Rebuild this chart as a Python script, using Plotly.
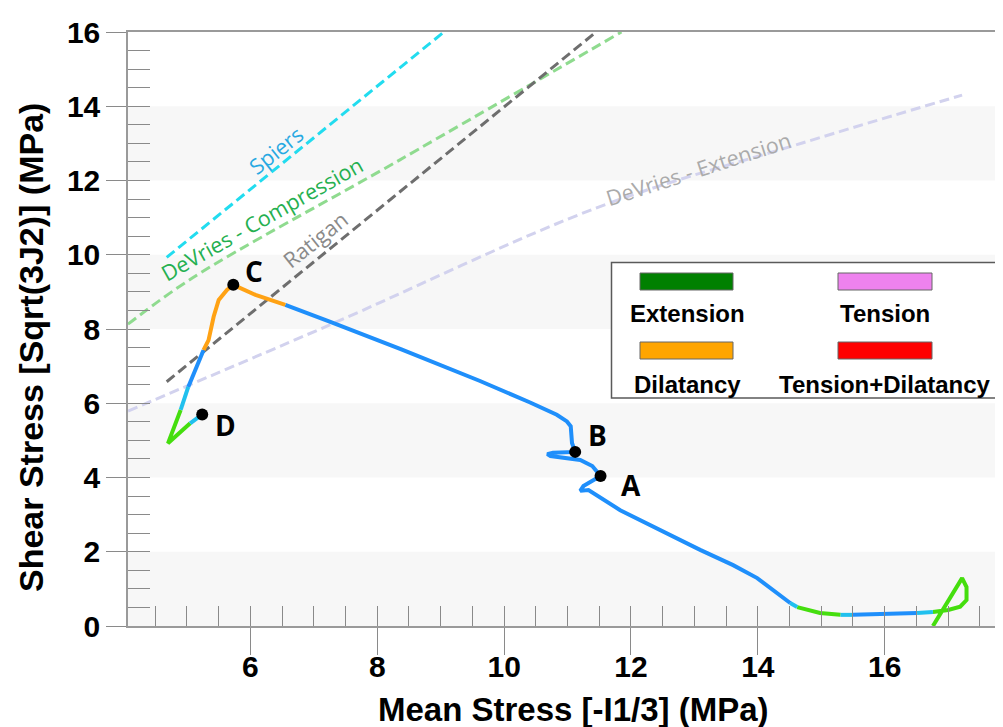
import plotly.graph_objects as go

# ---------------- data ----------------
x_range = [4.07, 17.865]
y_range = [0, 16]
x_ticks = [6, 8, 10, 12, 14, 16]
y_ticks = [0, 2, 4, 6, 8, 10, 12, 14, 16]

# stress path (Mean stress, Shear stress) in MPa, with the state at each point
path_x = [16.76, 17.22, 17.29, 17.29, 17.19, 17.00, 16.76, 16.51, 15.97, 15.50,
          15.30, 14.98, 14.62, 14.51, 14.30, 13.99, 13.61, 13.09, 11.83, 11.33,
          11.20, 11.25, 11.52, 11.39, 11.20, 10.73, 10.68, 10.77, 11.12, 11.07,
          11.05, 10.99, 10.83, 10.41, 9.62, 8.37, 7.26, 6.55, 6.08, 5.73,
          5.63, 5.50, 5.42, 5.34, 5.26, 5.02, 4.90, 4.70, 5.05, 5.24]
path_y = [0.00, 1.29, 1.05, 0.70, 0.52, 0.43, 0.38, 0.35, 0.32, 0.30,
          0.30, 0.35, 0.51, 0.62, 0.89, 1.29, 1.64, 2.05, 3.12, 3.66,
          3.64, 3.77, 4.04, 4.31, 4.47, 4.58, 4.63, 4.67, 4.69, 4.93,
          5.38, 5.51, 5.69, 6.02, 6.60, 7.46, 8.19, 8.65, 8.92, 9.19,
          9.05, 8.78, 8.33, 7.70, 7.43, 6.44, 5.82, 4.92, 5.46, 5.70]
# E = elastic, T = transition, X = extension, D = dilatancy
path_state = ["X", "X", "X", "X", "X", "X", "T", "E", "E", "T",
              "X", "X", "T", "E", "E", "E", "E", "E", "E", "E",
              "E", "E", "E", "E", "E", "E", "E", "E", "E", "E",
              "E", "E", "E", "E", "E", "E", "E", "D", "D", "D",
              "D", "D", "D", "D", "E", "T", "X", "X", "T", "T"]

point_names = ["A", "B", "C", "D"]
point_x = [11.52, 11.12, 5.73, 5.24]
point_y = [4.04, 4.69, 9.19, 5.70]

spiers_x = [4.68, 9.05]
spiers_y = [9.93, 16.0]
ratigan_x = [4.68, 11.45]
ratigan_y = [6.58, 16.0]
devries_c_x = [4.07, 5.09, 8.35, 11.85]
devries_c_y = [8.13, 9.38, 12.55, 16.0]
devries_e_x = [4.07, 7.25, 11.50, 14.70, 17.22]
devries_e_y = [5.79, 8.11, 11.29, 13.01, 14.30]

legend_labels = ["Extension", "Tension", "Dilatancy", "Tension+Dilatancy"]

# ---------------- styles ----------------
state_colors = {"E": "#1f8ffb", "T": "#20c0ee", "X": "#45de0e", "D": "#ffa214"}
legend_colors = ["#008000", "#ee82ee", "#ffa500", "#ff0000"]
BOLD = "Liberation Sans, Arial, sans-serif"
SOFT = "Open Sans, Noto Sans, sans-serif"

fig = go.Figure()

# criteria lines
crit = [
    (spiers_x, spiers_y, "#22dcef"),
    (devries_c_x, devries_c_y, "#8fdb8f"),
    (ratigan_x, ratigan_y, "#6e6e6e"),
    (devries_e_x, devries_e_y, "#d2d2ee"),
]
for cx, cy, col in crit:
    fig.add_trace(go.Scatter(x=cx, y=cy, mode="lines", line_shape="spline",
                             line=dict(color=col, width=3, dash="10px,5px"),
                             hoverinfo="skip", showlegend=False))

# stress path, grouped by colour
groups = []
cur_col = state_colors[path_state[0]]
gx, gy = [path_x[0]], [path_y[0]]
for i in range(1, len(path_x)):
    gx.append(path_x[i]); gy.append(path_y[i])
    nxt = state_colors[path_state[i]]
    if nxt != cur_col or i == len(path_x) - 1:
        groups.append((gx, gy, cur_col))
        gx, gy = [path_x[i]], [path_y[i]]
        cur_col = nxt
for gx, gy, col in groups:
    fig.add_trace(go.Scatter(x=gx, y=gy, mode="lines",
                             line=dict(color=col, width=4),
                             hoverinfo="skip", showlegend=False))

# labelled points
fig.add_trace(go.Scatter(x=point_x, y=point_y, mode="markers",
                         marker=dict(color="black", size=12),
                         hoverinfo="skip", showlegend=False))
label_shift = {"A": (30, -9), "B": (22, 17), "C": (21, 14), "D": (23, -11)}
for n, px_, py_ in zip(point_names, point_x, point_y):
    dx, dy = label_shift[n]
    fig.add_annotation(x=px_, y=py_, text="<b>%s</b>" % n, showarrow=False,
                       xshift=dx, yshift=dy, xanchor="center", yanchor="middle",
                       font=dict(family=SOFT, size=28, color="black"))

# criterion labels
crit_labels = [
    ("Spiers", 6.39, 12.82, -38.5, "#28a9e2"),
    ("DeVries - Compression", 6.18, 10.98, -29.5, "#25b050"),
    ("Ratigan", 7.02, 10.40, -38.5, "#8a8a8a"),
    ("DeVries - Extension", 13.07, 12.31, -18, "#ababab"),
]
for t, lx, ly, ang, col in crit_labels:
    fig.add_annotation(x=lx, y=ly, text=t, showarrow=False, textangle=ang,
                       xanchor="center", yanchor="middle",
                       font=dict(family=SOFT, size=21.5, color=col))

# alternating bands
shapes = []
for k in range(0, len(y_ticks) - 1, 2):
    shapes.append(dict(type="rect", xref="paper", x0=0, x1=1, yref="y",
                       y0=y_ticks[k], y1=y_ticks[k + 1], fillcolor="#f7f7f7",
                       line=dict(width=0), layer="below"))

# legend box (reference pixel -> paper)
L, T, W, H = 128, 32, 875, 594
def px(p):
    return (p - L) / W
def py(p):
    return (T + H - p) / H

shapes.append(dict(type="rect", xref="paper", yref="paper",
                   x0=px(611.5), x1=px(1001.5), y0=py(398), y1=py(262.5),
                   fillcolor="white", line=dict(color="#5a5a5a", width=1.5)))
sw = [(640, 273, 733, 290), (838, 273, 932, 290),
      (640, 342, 733, 359), (838, 342, 932, 359)]
txt = [(687, 314), (885, 314), (687, 384), (885, 384)]
for (x0, y0, x1, y1), col, lab, (tx, ty) in zip(sw, legend_colors, legend_labels, txt):
    shapes.append(dict(type="rect", xref="paper", yref="paper",
                       x0=px(x0), x1=px(x1), y0=py(y1), y1=py(y0),
                       fillcolor=col, line=dict(color="#666666", width=1)))
    fig.add_annotation(xref="paper", yref="paper", x=px(tx), y=py(ty),
                       xanchor="center", yanchor="middle",
                       text="<b>%s</b>" % lab, showarrow=False,
                       font=dict(family=BOLD, size=24, color="black"))

# axis titles
fig.add_annotation(xref="paper", yref="paper", x=px(573), y=py(709),
                   xanchor="center", yanchor="middle",
                   text="<b>Mean Stress [-I1/3] (MPa)</b>", showarrow=False,
                   font=dict(family=BOLD, size=33, color="black"))
fig.add_annotation(xref="paper", yref="paper", x=px(31), y=py(348),
                   xanchor="center", yanchor="middle",
                   text="<b>Shear Stress [Sqrt(3J2)] (MPa)</b>", showarrow=False,
                   textangle=-90, font=dict(family=BOLD, size=34, color="black"))

# invisible trace for overlay axes (inside ticks)
fig.add_trace(go.Scatter(x=[x_range[0]], y=[y_range[0]], xaxis="x2", yaxis="y2",
                         mode="markers", marker=dict(opacity=0), hoverinfo="skip",
                         showlegend=False))

x_inner = [v / 2 for v in range(9, 36)]
y_inner = [v / 2 for v in range(1, 32)]

tickc = "#8a8a8a"
fig.update_layout(
    width=995, height=719,
    margin=dict(l=120, r=0, t=24, b=101, autoexpand=False),
    paper_bgcolor="white", plot_bgcolor="white",
    shapes=shapes,
    xaxis=dict(range=x_range, tickvals=x_ticks, ticks="outside", ticklen=27,
               tickwidth=1, tickcolor=tickc, showline=True, linecolor="#9a9a9a",
               linewidth=1.5, mirror=True, showgrid=False, zeroline=False,
               ticklabelstandoff=-14,
               tickfont=dict(family=BOLD, size=30, color="black", weight="bold")),
    yaxis=dict(range=y_range, tickvals=y_ticks, ticks="outside", ticklen=20,
               tickwidth=1, tickcolor=tickc, showline=True, linecolor="#9a9a9a",
               linewidth=1.5, mirror=True, showgrid=False, zeroline=False,
               ticklabelstandoff=0,
               tickfont=dict(family=BOLD, size=30, color="black", weight="bold")),
    xaxis2=dict(overlaying="x", range=x_range, anchor="y2", side="bottom",
                tickvals=x_inner, ticks="inside", ticklen=20, tickcolor=tickc,
                showticklabels=False, showline=False, showgrid=False, zeroline=False),
    yaxis2=dict(overlaying="y", range=y_range, anchor="x2", side="left",
                tickvals=y_inner, ticks="inside", ticklen=22, tickcolor=tickc,
                showticklabels=False, showline=False, showgrid=False, zeroline=False),
)

fig.write_html("out.html")
